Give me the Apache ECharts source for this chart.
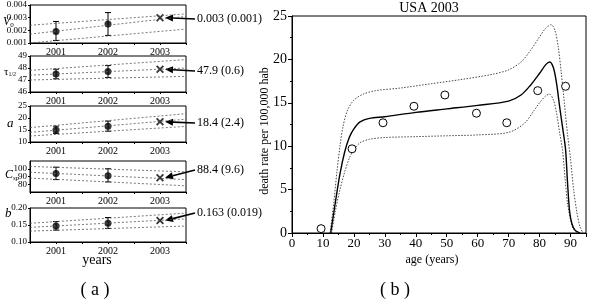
<!DOCTYPE html>
<html>
<head>
<meta charset="utf-8">
<script src="https://cdn.jsdelivr.net/npm/echarts@6/dist/echarts.min.js"></script>
<style>
  html, body { margin: 0; padding: 0; background: #fff; }
  #main { width: 590px; height: 306px; }
</style>
</head>
<body>
<div id="main"></div>
<script>
// (a) yearly parameter estimates
const yearsObs = [2001, 2002]
const yearPred = 2003
const bandEnds = [2000.5, 2003.5]

const v0Mean = [0.0019, 0.0025]
const v0Err = [[0.0012, 0.0027], [0.0016, 0.0034]]
const v0Band = [[0.0024, 0.0033], [0.0017, 0.0031], [0.0010, 0.0021]]

const tauMean = [47.5, 47.7]
const tauErr = [[47.1, 47.9], [47.2, 48.2]]
const tauBand = [[47.8, 48.7], [47.4, 48.0], [47.0, 47.3]]

const aMean = [15.0, 16.6]
const aErr = [[13.5, 16.6], [14.5, 18.7]]
const aBand = [[16.0, 21.8], [14.0, 19.5], [12.5, 16.5]]

const cspMean = [94, 91]
const cspErr = [[86, 102], [83, 100]]
const cspBand = [[103, 96], [95.5, 86], [88, 78]]

const bMean = [0.147, 0.155]
const bErr = [[0.135, 0.160], [0.140, 0.172]]
const bBand = [[0.155, 0.185], [0.143, 0.168], [0.132, 0.147]]

const predValues = [0.003, 47.9, 18.4, 88.4, 0.163]
const predLabels = ['0.003 (0.001)', '47.9 (0.6)', '18.4 (2.4)', '88.4 (9.6)', '0.163 (0.019)']

// (b) USA 2003 death rate by age
const ageObs = [9.4, 19.4, 29.4, 39.4, 49.4, 59.6, 69.4, 79.4, 88.4]
const rateObs = [0.5, 9.7, 12.7, 14.6, 15.9, 13.8, 12.7, 16.4, 16.9]

const fitCurve = [[12.5, 0], [14, 3.5], [15.5, 6.8], [17, 9.3], [18.5, 11], [20, 12], [22, 12.8],
  [25, 13.2], [30, 13.4], [40, 13.9], [50, 14.3], [60, 14.7], [70, 15.2], [74, 15.9], [77, 17],
  [80, 18.4], [82, 19.4], [83.3, 19.7], [84.5, 19], [85.5, 17.2], [86.5, 14.5], [87.5, 12],
  [88.4, 9.6], [89, 6], [89.7, 2.5], [90.5, 1], [91.5, 0.3], [93, 0]]
const upperCurve = [[12.3, 0], [13.5, 3.5], [14.5, 7], [15.5, 10], [16.5, 12.3], [18, 14.2],
  [20, 15.3], [23, 16], [27, 16.4], [35, 16.7], [45, 17.2], [55, 17.7], [65, 18.3], [70, 18.8],
  [74, 19.7], [77, 21], [80, 22.6], [82, 23.6], [83.8, 24], [85, 23.3], [86, 21.5], [87, 18.5],
  [88, 15], [89, 11.5], [90, 8.5], [91, 5], [92, 2.5], [93, 0.8], [94, 0]]
const lowerCurve = [[12.8, 0], [14, 2.5], [15.5, 5], [17, 7], [18.5, 8.6], [20, 9.6], [22, 10.4],
  [25, 10.8], [30, 11], [40, 11.1], [50, 11.2], [60, 11.3], [70, 11.6], [75, 12.6], [78, 14],
  [80, 15], [82, 15.8], [83.2, 16], [84.5, 15.3], [85.5, 13.8], [86.5, 11.5], [87.4, 9.6],
  [88.3, 6], [89, 3.5], [90, 1.5], [91, 0.4], [92.5, 0]]

const FONT = "'Liberation Serif', 'Times New Roman', serif"
const chart = echarts.init(document.getElementById('main'))

const panels = [
  { mean: v0Mean, err: v0Err, band: v0Band, min: 0.001, max: 0.004, step: 0.001, dec: 3 },
  { mean: tauMean, err: tauErr, band: tauBand, min: 46, max: 49, step: 1, dec: 0 },
  { mean: aMean, err: aErr, band: aBand, min: 10, max: 25, step: 5, dec: 0 },
  { mean: cspMean, err: cspErr, band: cspBand, min: 70, max: 110, step: 10, dec: 0 },
  { mean: bMean, err: bErr, band: bBand, min: 0.10, max: 0.20, step: 0.05, dec: 2 }
]
const tops = [5, 56, 106, 161, 208]
const heights = [38, 36, 36, 31, 34]

const grid = [], xAxis = [], yAxis = [], series = []
const crossPath = 'path://M0,1.6L1.6,0L5,3.4L8.4,0L10,1.6L6.6,5L10,8.4L8.4,10L5,6.6L1.6,10L0,8.4L3.4,5Z'

panels.forEach((p, i) => {
  grid.push({ left: 30, width: 156, top: tops[i], height: heights[i], show: true, borderColor: '#000', borderWidth: 1 })
  xAxis.push({
    gridIndex: i, type: 'value', min: 2000.5, max: 2003.5, interval: 0.5,
    splitLine: { show: false },
    axisLine: { lineStyle: { color: '#000' } },
    axisTick: { length: 2, lineStyle: { color: '#000' } },
    axisLabel: { fontFamily: FONT, fontSize: 10, color: '#000', margin: 4,
      formatter: v => Number.isInteger(v) ? String(v) : '' }
  })
  yAxis.push({
    gridIndex: i, type: 'value', min: p.min, max: p.max, interval: p.step,
    splitLine: { show: false },
    axisLine: { show: true, lineStyle: { color: '#000' } },
    axisTick: { length: 2, lineStyle: { color: '#000' } },
    axisLabel: { fontFamily: FONT, fontSize: 9, color: '#000', margin: 3,
      formatter: v => v.toFixed(p.dec) }
  })
  p.band.forEach(b => {
    series.push({
      type: 'line', xAxisIndex: i, yAxisIndex: i, symbol: 'none', silent: true,
      data: [[bandEnds[0], b[0]], [bandEnds[1], b[1]]],
      lineStyle: { color: '#555', width: 0.8, type: [2, 2] }
    })
  })
  series.push({
    type: 'custom', xAxisIndex: i, yAxisIndex: i,
    data: yearsObs.map((y, k) => [y, p.err[k][0], p.err[k][1]]),
    renderItem: (params, api) => {
      const lo = api.coord([api.value(0), api.value(1)])
      const hi = api.coord([api.value(0), api.value(2)])
      const st = { stroke: '#000', lineWidth: 1 }
      return { type: 'group', children: [
        { type: 'line', shape: { x1: lo[0], y1: lo[1], x2: hi[0], y2: hi[1] }, style: st },
        { type: 'line', shape: { x1: lo[0] - 3, y1: lo[1], x2: lo[0] + 3, y2: lo[1] }, style: st },
        { type: 'line', shape: { x1: hi[0] - 3, y1: hi[1], x2: hi[0] + 3, y2: hi[1] }, style: st }
      ] }
    }
  })
  series.push({
    type: 'scatter', xAxisIndex: i, yAxisIndex: i, symbol: 'circle', symbolSize: 7,
    itemStyle: { color: '#000' },
    data: yearsObs.map((y, k) => [y, p.mean[k]])
  })
  series.push({
    type: 'scatter', xAxisIndex: i, yAxisIndex: i, symbol: crossPath, symbolSize: 8,
    itemStyle: { color: '#000' },
    data: [[yearPred, predValues[i]]]
  })
})

// right panel (b)
grid.push({ left: 292, right: 4, top: 16, bottom: 73, show: true, borderColor: '#000', borderWidth: 1 })
xAxis.push({
  gridIndex: 5, type: 'value', min: 0, max: 95, interval: 10,
  splitLine: { show: false },
  axisLine: { lineStyle: { color: '#000' } },
  axisTick: { length: 4, lineStyle: { color: '#000' } },
  minorTick: { show: true, splitNumber: 2, length: 2, lineStyle: { color: '#000' } },
  axisLabel: { fontFamily: FONT, fontSize: 13, color: '#000', margin: 4,
    formatter: v => v % 10 === 0 ? String(v) : '' }
})
yAxis.push({
  gridIndex: 5, type: 'value', min: 0, max: 25, interval: 5,
  splitLine: { show: false },
  axisLine: { show: true, lineStyle: { color: '#000' } },
  axisTick: { length: 4, lineStyle: { color: '#000' } },
  minorTick: { show: true, splitNumber: 2, length: 2, lineStyle: { color: '#000' } },
  axisLabel: { fontFamily: FONT, fontSize: 14, color: '#000', margin: 5 }
})
series.push({
  type: 'line', xAxisIndex: 5, yAxisIndex: 5, symbol: 'none', smooth: 0.3, data: upperCurve,
  lineStyle: { color: '#333', width: 0.9, type: [1.5, 1.5] }
})
series.push({
  type: 'line', xAxisIndex: 5, yAxisIndex: 5, symbol: 'none', smooth: 0.3, data: lowerCurve,
  lineStyle: { color: '#333', width: 0.9, type: [1.5, 1.5] }
})
series.push({
  type: 'line', xAxisIndex: 5, yAxisIndex: 5, symbol: 'none', smooth: 0.3, data: fitCurve,
  lineStyle: { color: '#000', width: 1.4 }
})
series.push({
  type: 'scatter', xAxisIndex: 5, yAxisIndex: 5, symbol: 'circle', symbolSize: 8, z: 5,
  itemStyle: { color: '#fff', borderColor: '#000', borderWidth: 1, opacity: 1 },
  data: ageObs.map((a, k) => [a, rateObs[k]])
})

const txt = (x, y, text, size, extra) => Object.assign({
  type: 'text', x, y,
  style: Object.assign({ text, fontFamily: FONT, fontSize: size, fill: '#000', align: 'center', verticalAlign: 'middle' }, extra || {})
})

chart.setOption({
  animation: false,
  grid, xAxis, yAxis, series
})

// annotations: parameter names, arrows to the 2003 predictions, captions
const graphic = [
  { type: 'text', x: 3, y: 22, style: { rich: { v: { fontFamily: FONT, fontStyle: 'italic', fontSize: 12 }, s: { fontFamily: FONT, fontSize: 7, padding: [6, 0, 0, 0] } }, text: '{v|V}{s|0}', verticalAlign: 'middle' } },
  { type: 'text', x: 4, y: 72, style: { rich: { v: { fontFamily: FONT, fontSize: 11 }, s: { fontFamily: FONT, fontSize: 6, padding: [5, 0, 0, 0] } }, text: '{v|τ}{s|1/2}', verticalAlign: 'middle' } },
  { type: 'text', x: 7, y: 124, style: { text: 'a', fontFamily: FONT, fontStyle: 'italic', fontSize: 13, verticalAlign: 'middle' } },
  { type: 'text', x: 5, y: 175, style: { rich: { v: { fontFamily: FONT, fontStyle: 'italic', fontSize: 12 }, s: { fontFamily: FONT, fontStyle: 'italic', fontSize: 7, padding: [6, 0, 0, 0] } }, text: '{v|C}{s|sp}', verticalAlign: 'middle' } },
  { type: 'text', x: 5, y: 214, style: { text: 'b', fontFamily: FONT, fontStyle: 'italic', fontSize: 13, verticalAlign: 'middle' } },
  txt(97, 260, 'years', 14),
  txt(432, 260, 'age (years)', 12),
  txt(429, 8, 'USA 2003', 14),
  Object.assign(txt(265, 131, 'death rate per 100,000 hab', 12), { rotation: Math.PI / 2 }),
  txt(95, 290, '( a )', 18),
  txt(395, 290, '( b )', 18)
]
const textYs = [19, 71, 123, 170, 213]
predValues.forEach((v, i) => {
  const c = chart.convertToPixel({ gridIndex: i }, [yearPred, v])
  const tipX = c[0] + 5, tipY = c[1]
  const sx = 195, sy = textYs[i]
  const ang = Math.atan2(tipY - sy, tipX - sx)
  const L = 8, W = 3.5
  const bx = tipX - L * Math.cos(ang), by = tipY - L * Math.sin(ang)
  const px = -Math.sin(ang) * W, py = Math.cos(ang) * W
  graphic.push({ type: 'line', shape: { x1: sx, y1: sy, x2: bx, y2: by }, style: { stroke: '#000', lineWidth: 1.6 } })
  graphic.push({ type: 'polygon', shape: { points: [[tipX, tipY], [bx + px, by + py], [bx - px, by - py]] }, style: { fill: '#000' } })
  graphic.push(txt(197, sy, predLabels[i], 12, { align: 'left' }))
})
chart.setOption({ graphic })
</script>
</body>
</html>
